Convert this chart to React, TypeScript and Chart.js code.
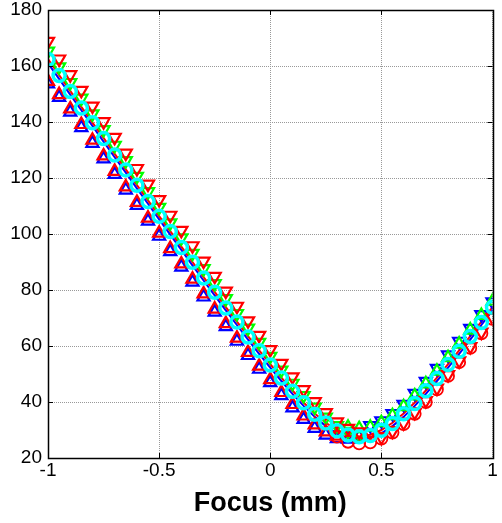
import React, { useEffect, useRef } from 'react';
import { Chart, registerables } from 'chart.js';

Chart.register(...registerables);

// Focus positions (mm)
const focusMm = [
  -1, -0.95, -0.9, -0.85, -0.8, -0.75, -0.7, -0.65, -0.6, -0.55, -0.5,
  -0.45, -0.4, -0.35, -0.3, -0.25, -0.2, -0.15, -0.1, -0.05, 0,
  0.05, 0.1, 0.15, 0.2, 0.25, 0.3, 0.35, 0.4, 0.45, 0.5,
  0.55, 0.6, 0.65, 0.7, 0.75, 0.8, 0.85, 0.9, 0.95, 1,
];

// Cyan circles
const cyanCircles = [
  162.3, 156.6, 150.9, 145.0, 139.7, 134.1, 128.2, 122.9, 117.4, 111.6, 106.3,
  100.9, 95.2, 89.9, 84.3, 79.2, 73.6, 68.6, 63.2, 58.3, 53.2,
  48.6, 43.8, 39.7, 35.6, 32.5, 29.7, 28.2, 27.6, 28.0, 29.9,
  32.3, 35.8, 39.5, 44.0, 48.4, 53.4, 58.1, 63.4, 68.4, 73.8,
];

// Red downward triangles
const redDown = [
  168.8, 162.5, 156.9, 151.3, 145.7, 140.1, 134.5, 128.9, 123.4, 117.8, 112.3,
  106.7, 101.3, 95.8, 90.3, 84.9, 79.6, 74.2, 69.0, 63.8, 58.7,
  53.8, 49.0, 44.4, 40.1, 36.2, 32.9, 30.6, 29.3, 28.9, 27.4,
  29.6, 32.6, 36.3, 40.5, 45.0, 49.8, 54.7, 59.8, 65.0, 70.2,
];

// Red upward triangles (descending side)
const redUp = [
  154.5, 149.8, 144.7, 139.1, 133.5, 127.9, 122.4, 116.8, 111.3, 105.7, 100.3,
  94.8, 89.3, 83.9, 78.6, 73.2, 68.0, 62.8, 57.7, 52.8, 48.0,
  43.4, 39.1, 35.0, 31.8, 29.3, 27.8, null, null, null, null,
  null, null, null, null, null, null, null, null, null, null,
];

// Red circles (rising side)
const redCircles = [
  null, null, null, null, null, null, null, null, null, null, null,
  null, null, null, null, null, null, null, null, null, null,
  null, null, null, null, null, 27.6, 25.8, 25.2, 25.6, 26.9,
  29.1, 32.1, 35.8, 40.0, 44.5, 49.3, 54.2, 59.3, 64.5, 69.7,
];

// Green downward triangles (descending side)
const greenDown = [
  165.3, 159.7, 154.1, 148.5, 142.9, 137.3, 131.7, 126.2, 120.6, 115.1, 109.5,
  104.0, 98.6, 93.1, 87.6, 82.3, 76.9, 71.6, 66.4, 61.3, 56.3,
  51.4, 46.7, 42.3, 38.2, 34.6, 31.6, 29.5, 28.3, null, null,
  null, null, null, null, null, null, null, null, null, null,
];

// Green upward triangles (rising side)
const greenUp = [
  null, null, null, null, null, null, null, null, null, null, null,
  null, null, null, null, null, null, null, null, null, null,
  null, null, null, null, null, null, 31.0, 30.5, 31.0, 32.6,
  35.1, 38.3, 42.2, 46.5, 51.0, 55.8, 60.7, 65.7, 70.9, 76.0,
];

// Blue upward triangles (descending side)
const blueUp = [
  153.6, 148.8, 143.5, 138.0, 132.4, 126.8, 121.3, 115.7, 110.2, 104.6, 99.2,
  93.7, 88.2, 82.8, 77.5, 72.1, 66.9, 61.7, 56.6, 51.7, 46.9,
  42.3, 37.9, 33.8, 30.6, 28.2, 26.9, 26.7, 27.5, null, null,
  null, null, null, null, null, null, null, null, null, null,
];

// Blue downward triangles (rising side)
const blueDown = [
  null, null, null, null, null, null, null, null, null, null, null,
  null, null, null, null, null, null, null, null, null, null,
  null, null, null, null, null, null, null, null, 31.6, 33.3,
  35.9, 39.2, 43.1, 47.4, 52.0, 56.8, 61.7, 66.3, 71.2, 75.8,
];

// Connecting traces
const redTrace = [
  162.5, 156.8, 151.1, 145.4, 139.8, 134.3, 128.6, 123.1, 117.5, 112.0, 106.4,
  101.0, 95.5, 90.0, 84.6, 79.3, 73.9, 68.7, 63.5, 58.4, 53.5,
  48.7, 44.1, 39.8, 35.9, 32.6, 30.0, 28.3, 27.7, 28.3, 30.0,
  32.6, 35.9, 39.8, 44.1, 48.7, 53.5, 58.4, 63.5, 68.7, 73.9,
];
const blueTrace = [
  161.0, 155.4, 149.8, 144.2, 138.6, 133.0, 127.4, 121.9, 116.3, 110.8, 105.2,
  99.8, 94.3, 88.8, 83.4, 78.1, 72.7, 67.5, 62.3, 57.2, 52.3,
  47.5, 42.9, 38.6, 34.7, 31.4, 28.8, 27.1, 26.5, 27.1, 28.8,
  31.4, 34.7, 38.6, 42.9, 47.5, 52.3, 57.2, 62.3, 67.5, 72.7,
];

const xTickValues = [-1, -0.5, 0, 0.5, 1];
const xTickLabels = ['-1', '-0.5', '0', '0.5', '1'];
const yTickValues = [20, 40, 60, 80, 100, 120, 140, 160, 180];
const yTickLabels = ['20', '40', '60', '80', '100', '120', '140', '160', '180'];

const FONT = "'Liberation Sans', Arial, sans-serif";

function toPoints(ys: (number | null)[]) {
  const pts: { x: number; y: number }[] = [];
  ys.forEach((y, i) => {
    if (y !== null && y !== undefined) pts.push({ x: focusMm[i], y });
  });
  return pts;
}

function markerSet(
  ys: (number | null)[],
  color: string,
  style: string,
  radius: number,
  width: number,
  rotation = 0
) {
  return {
    data: toPoints(ys),
    showLine: false,
    borderColor: color,
    backgroundColor: 'rgba(0,0,0,0)',
    pointStyle: style,
    pointRotation: rotation,
    pointRadius: radius,
    pointHoverRadius: radius,
    pointBorderColor: color,
    pointBackgroundColor: 'rgba(0,0,0,0)',
    pointBorderWidth: width,
    pointHoverBorderWidth: width,
  };
}

function traceSet(ys: (number | null)[], color: string, width: number) {
  return {
    data: toPoints(ys),
    showLine: true,
    borderColor: color,
    backgroundColor: 'rgba(0,0,0,0)',
    borderWidth: width,
    pointRadius: 0,
    pointHoverRadius: 0,
  };
}

// Box around the plot area with inward tick marks
const frameTicks = {
  id: 'frameTicks',
  afterDraw(chart: any) {
    const { ctx, chartArea: a, scales } = chart;
    const len = 5;
    ctx.save();
    ctx.strokeStyle = '#000';
    ctx.lineWidth = 1;
    ctx.beginPath();
    for (const v of xTickValues) {
      const px = Math.round(scales.x.getPixelForValue(v)) + 0.5;
      ctx.moveTo(px, a.bottom);
      ctx.lineTo(px, a.bottom - len);
      ctx.moveTo(px, a.top);
      ctx.lineTo(px, a.top + len);
    }
    for (const v of yTickValues) {
      const py = Math.round(scales.y.getPixelForValue(v)) + 0.5;
      ctx.moveTo(a.left, py);
      ctx.lineTo(a.left + len, py);
      ctx.moveTo(a.right, py);
      ctx.lineTo(a.right - len, py);
    }
    ctx.stroke();
    ctx.lineWidth = 1.5;
    ctx.strokeRect(
      Math.round(a.left) + 0.5,
      Math.round(a.top) + 0.5,
      Math.round(a.right - a.left),
      Math.round(a.bottom - a.top)
    );
    ctx.restore();
  },
};

export default function App() {
  const canvasRef = useRef<HTMLCanvasElement | null>(null);

  useEffect(() => {
    const canvas = canvasRef.current;
    if (!canvas) return;

    const chart = new Chart(canvas, {
      type: 'scatter',
      data: {
        datasets: [
          markerSet(cyanCircles, '#00ffff', 'circle', 6, 3.5),
          markerSet(redDown, '#ff0000', 'triangle', 7, 2.2, 180),
          markerSet(redUp, '#ff0000', 'triangle', 7, 2.2),
          markerSet(redCircles, '#ff0000', 'circle', 6, 1.8),
          markerSet(greenDown, '#00ff00', 'triangle', 7, 2.2, 180),
          markerSet(greenUp, '#00ff00', 'triangle', 7, 2.2),
          markerSet(blueUp, '#0000ff', 'triangle', 7, 2.2),
          markerSet(blueDown, '#0000ff', 'triangle', 7, 2.2, 180),
          traceSet(redTrace, '#ff0000', 2),
          traceSet(blueTrace, '#0000ff', 2),
        ] as any,
      },
      options: {
        animation: false,
        responsive: false,
        devicePixelRatio: 1,
        events: [],
        layout: { padding: { top: 10, right: 2, left: 0, bottom: 0 } },
        plugins: {
          legend: { display: false },
          tooltip: { enabled: false },
        },
        scales: {
          x: {
            type: 'linear',
            min: -1,
            max: 1,
            afterBuildTicks: (scale: any) => {
              scale.ticks = xTickValues.map((value) => ({ value }));
            },
            afterFit: (scale: any) => {
              scale.height = 65;
              scale.paddingLeft = 0;
              scale.paddingRight = 0;
            },
            ticks: {
              autoSkip: false,
              maxRotation: 0,
              padding: 1,
              color: '#000',
              font: { family: FONT, size: 19 },
              callback: (_v: any, i: number) => xTickLabels[i],
            },
            grid: { color: '#999999', lineWidth: 1, drawTicks: false },
            border: { display: false, dash: [1, 1] },
            title: {
              display: true,
              text: 'Focus (mm)',
              color: '#000',
              font: { family: FONT, size: 27, weight: 'bold' },
              padding: { top: 0, bottom: 3 },
            },
          },
          y: {
            type: 'linear',
            min: 20,
            max: 180,
            afterBuildTicks: (scale: any) => {
              scale.ticks = yTickValues.map((value) => ({ value }));
            },
            afterFit: (scale: any) => {
              scale.width = 48;
              scale.paddingTop = 0;
              scale.paddingBottom = 0;
            },
            ticks: {
              autoSkip: false,
              padding: 6,
              color: '#000',
              font: { family: FONT, size: 19 },
              callback: (_v: any, i: number) => yTickLabels[i],
            },
            grid: { color: '#999999', lineWidth: 1, drawTicks: false },
            border: { display: false, dash: [1, 1] },
          },
        },
      } as any,
      plugins: [frameTicks],
    });

    return () => chart.destroy();
  }, []);

  return (
    <div
      style={{
        position: 'absolute',
        left: 0,
        top: 0,
        width: 502,
        height: 523,
        background: '#fff',
      }}
    >
      <canvas ref={canvasRef} width={502} height={523} style={{ display: 'block' }} />
    </div>
  );
}
